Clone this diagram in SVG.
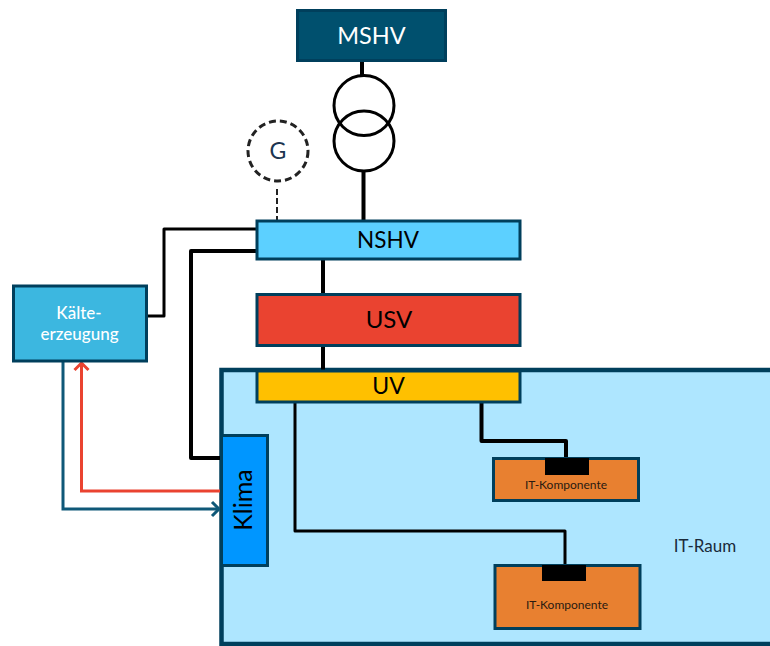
<svg xmlns="http://www.w3.org/2000/svg" width="770" height="646" viewBox="0 0 770 646">
<defs>
<marker id="ar" markerUnits="userSpaceOnUse" markerWidth="18" markerHeight="18" refX="15" refY="9" orient="auto"><path d="M8 2L15 9L8 16" fill="none" stroke="context-stroke" stroke-width="3"/></marker>
</defs>
<style>
text{font-family:Lato,"Liberation Sans",sans-serif;text-anchor:middle}
.n{stroke:#003f5c;stroke-width:3}
.w{fill:none;stroke:#000;stroke-width:4;stroke-linejoin:round}
.t{fill:#000;font-size:24px}
</style>
<rect width="770" height="646" fill="#fff"/>
<g id="it-raum">
<path d="M772 370H221.500V644H772" fill="#aee6ff" stroke="#003f5c" stroke-width="4.500"/>
<text x="705" y="552" font-size="17" fill="#1a2a3a">IT-Raum</text>
</g>
<g id="connectors">
<path class="w" d="M362 61V76M363.500 172V221M323 259V294M323 345V371M258 251H191V458H221M481.500 402V441H566V458"/>
<path class="w" stroke-width="3" style="stroke-width:3" d="M258 229H164V316H147M295 402V531H565V566"/>
<path fill="none" stroke="#222" stroke-width="2" stroke-dasharray="6 3" d="M277 189V221"/>
<path fill="none" stroke="#ea4330" stroke-width="3" d="M220 491H81.500V363" marker-end="url(#ar)"/>
<path fill="none" stroke="#0f5878" stroke-width="3" d="M63 362V509H219" marker-end="url(#ar)"/>
</g>
<g id="mshv"><rect class="n" x="297.500" y="10.500" width="148" height="50" fill="#00506e"/><text x="371.500" y="44" font-size="23.500" fill="#fff">MSHV</text></g>
<g id="trafo" fill="none" stroke="#000" stroke-width="3"><circle cx="364" cy="105.500" r="30"/><circle cx="364" cy="141" r="30"/></g>
<g id="generator"><circle cx="278" cy="151" r="30" fill="#fff" stroke="#222" stroke-width="3" stroke-dasharray="7 4"/><text x="278" y="158.500" font-size="23" fill="#1c3550">G</text></g>
<g id="nshv"><rect class="n" x="257" y="221" width="263" height="38" fill="#5cd0ff"/><text x="388" y="248" class="t" style="font-size:22.500px">NSHV</text></g>
<g id="usv"><rect class="n" x="257" y="294.500" width="263" height="51" fill="#ea4330"/><text x="389" y="328" class="t">USV</text></g>
<g id="uv"><rect class="n" x="257" y="371" width="263" height="31" fill="#ffc000"/><text x="388.500" y="394" class="t" style="font-size:23px">UV</text></g>
<g id="kaelte"><rect class="n" x="13.500" y="286" width="133" height="75" fill="#3cb7e0"/><text x="79" y="319" font-size="17" fill="#fff" font-weight="500">Kälte-</text><text x="79.500" y="340" font-size="17" fill="#fff" font-weight="500">erzeugung</text></g>
<g id="klima"><rect class="n" x="221.500" y="435.500" width="46" height="130" fill="#0096ff"/><text transform="translate(251.500 500) rotate(-90)" class="t" style="font-size:25px">Klima</text></g>
<g id="it1"><rect class="n" x="493.500" y="458.500" width="145" height="42" fill="#e88030"/><rect x="545" y="458" width="44" height="17" fill="#000"/><text x="566" y="489" font-size="12" fill="#2a1a10">IT-Komponente</text></g>
<g id="it2"><rect class="n" x="495" y="565.500" width="145" height="63" fill="#e88030"/><rect x="542" y="565" width="44" height="16" fill="#000"/><text x="567" y="609" font-size="12" fill="#2a1a10">IT-Komponente</text></g>
</svg>
